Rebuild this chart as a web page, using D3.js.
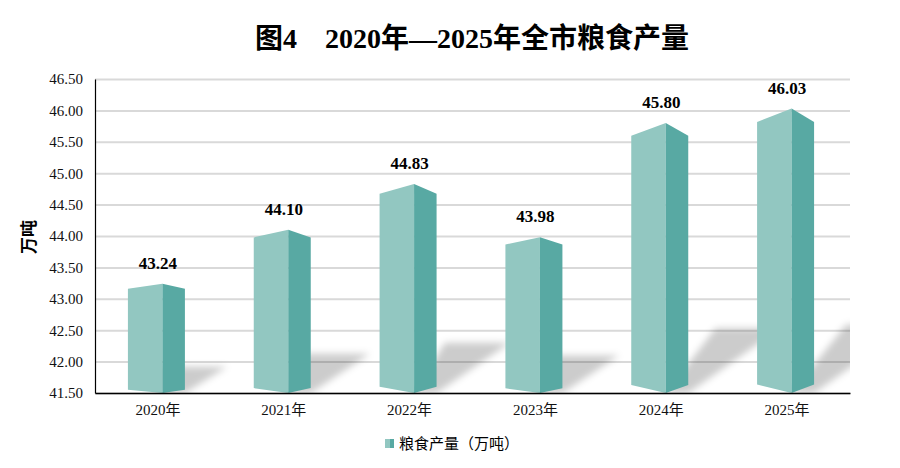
<!DOCTYPE html>
<html><head><meta charset="utf-8">
<script src="https://cdn.jsdelivr.net/npm/d3@7"></script>
<style>
html,body{margin:0;padding:0;background:#fff;}
svg{display:block;}
</style></head>
<body>
<svg id="chart" width="900" height="468"></svg>
<script>
const categories = ["2020年","2021年","2022年","2023年","2024年","2025年"];
const values = [43.24, 44.10, 44.83, 43.98, 45.80, 46.03];
const yTicks = [41.5, 42.0, 42.5, 43.0, 43.5, 44.0, 44.5, 45.0, 45.5, 46.0, 46.5];
const seriesName = "粮食产量（万吨）";
const yTitle = "万吨";
const title = "图4\u30002020年—2025年全市粮食产量";

const svg = d3.select("#chart");
const m = {left:95, right:850, top:79, bottom:393};
const serif = "'Liberation Serif','Times New Roman','Noto Sans CJK SC',serif";
const frontC = "#92c7c1", sideC = "#58a9a3";

const x = d3.scaleBand().domain(categories).range([m.left, m.right]);
const y = d3.scaleLinear().domain([41.5, 46.5]).range([m.bottom, m.top]);

// defs
const defs = svg.append("defs");
defs.append("clipPath").attr("id","plotClip").append("rect")
  .attr("x", m.left).attr("y", m.top).attr("width", m.right - m.left).attr("height", m.bottom - m.top);
defs.append("filter").attr("id","blur").attr("x","-30%").attr("y","-30%").attr("width","160%").attr("height","160%")
  .append("feGaussianBlur").attr("stdDeviation", 3.5);

// title
svg.append("text").attr("x", 472).attr("y", 48).attr("text-anchor","middle")
  .style("font-family", serif).style("font-weight","bold").style("font-size","28px").attr("fill","#000")
  .text(title);

// gridlines
const grid = svg.append("g").attr("transform", `translate(${m.left},0)`)
  .call(d3.axisLeft(y).tickValues(yTicks).tickSize(-(m.right - m.left)).tickFormat(""));
grid.select(".domain").remove();
grid.selectAll("line").attr("stroke","#d9d9d9").attr("stroke-width",2);

// bar geometry
function geom(d) {
  const cx = x(d.cat) + x.bandwidth() / 2;
  const yt = y(d.v);
  const h = m.bottom - yt;
  return {
    L: cx - 30, M: cx + 4.5, R: cx + 27, yt, h,
    topOff: 0.047 * h, botOff: 0.03 * h,
    dy: 0.24 * h
  };
}
const data = categories.map((c, i) => ({cat: c, v: values[i], i}));

// shadows
const shadowG = svg.append("g").attr("clip-path","url(#plotClip)");
shadowG.selectAll("path").data(data).join("path")
  .attr("d", d => {
    const g = geom(d);
    const dx = 1.3 * g.dy;
    const b = m.bottom;
    return `M${g.M},${b} L${g.R},${b} L${g.R + dx + 8},${b - g.dy} L${g.L + dx},${b - g.dy} Z`;
  })
  .attr("fill","#000").attr("fill-opacity",0.2).attr("filter","url(#blur)");

// bars
const bars = svg.append("g").selectAll("g").data(data).join("g");
bars.append("path")
  .attr("d", d => {
    const g = geom(d);
    return `M${g.L},${g.yt + g.topOff} L${g.M},${g.yt} L${g.M},${m.bottom} L${g.L},${m.bottom - g.botOff} Z`;
  }).attr("fill", frontC);
bars.append("path")
  .attr("d", d => {
    const g = geom(d);
    return `M${g.M},${g.yt} L${g.R},${g.yt + g.topOff} L${g.R},${m.bottom - g.botOff} L${g.M},${m.bottom} Z`;
  }).attr("fill", sideC);

// value labels
svg.append("g").selectAll("text").data(data).join("text")
  .attr("x", d => x(d.cat) + x.bandwidth() / 2)
  .attr("y", d => y(d.v) - 15)
  .attr("text-anchor","middle")
  .style("font-family", serif).style("font-weight","bold").style("font-size","17px")
  .attr("fill","#000")
  .text(d => d.v.toFixed(2));

// y axis
const ya = svg.append("g").attr("transform", `translate(${m.left},0)`)
  .call(d3.axisLeft(y).tickValues(yTicks).tickSize(0).tickPadding(12).tickFormat(d3.format(".2f")));
ya.select(".domain").attr("stroke","#000").attr("stroke-width",1.2);
ya.selectAll("text").style("font-family", serif).style("font-size","15px").attr("fill","#111");

// x axis
const xa = svg.append("g").attr("transform", `translate(0,${m.bottom})`)
  .call(d3.axisBottom(x).tickSize(0).tickPadding(11));
xa.select(".domain").attr("stroke","#000").attr("stroke-width",1.5);
xa.selectAll("text").style("font-family", serif).style("font-size","15px").attr("fill","#111");

// y title
svg.append("text").attr("transform","translate(35,237) rotate(-90)")
  .attr("text-anchor","middle")
  .style("font-family", serif).style("font-weight","bold").style("font-size","17px")
  .text(yTitle);

// legend
const lg = svg.append("g").attr("transform","translate(385,439)");
lg.append("rect").attr("x",0).attr("y",0).attr("width",5).attr("height",9).attr("fill",frontC);
lg.append("rect").attr("x",5).attr("y",0).attr("width",4).attr("height",9).attr("fill",sideC);
lg.append("text").attr("x",14).attr("y",9.5)
  .style("font-family","'Noto Sans CJK SC',sans-serif").style("font-size","15px").attr("fill","#000")
  .text(seriesName);
</script>
</body></html>
